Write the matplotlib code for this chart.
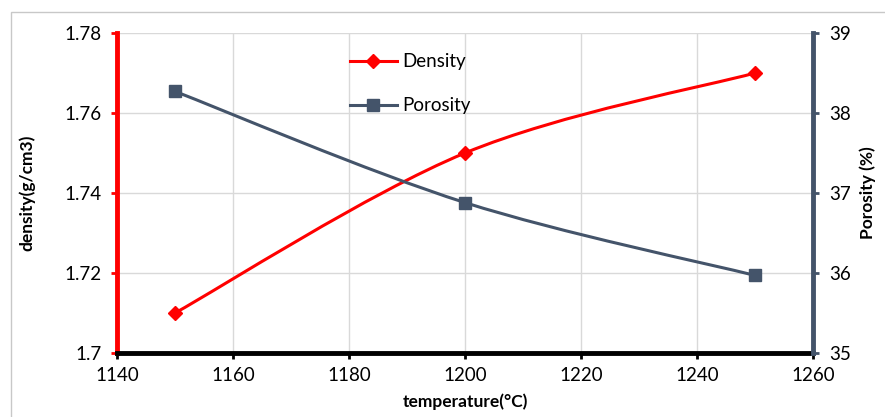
import matplotlib.pyplot as plt
from matplotlib.path import Path
from matplotlib.patches import PathPatch, Rectangle
import numpy as np

plt.rcParams['font.family'] = ['Lato', 'DejaVu Sans']

# data
temperature = [1150, 1200, 1250]
density = [1.71, 1.75, 1.77]
porosity = [38.27, 36.88, 35.97]

RED = '#FF0000'
SLATE = '#44546A'
GRID = '#D9D9D9'


def smooth_path(xs, ys):
    # Excel-style smoothed line: cubic bezier through the points
    P = np.column_stack([xs, ys]).astype(float)
    n = len(P)
    verts = [P[0]]
    codes = [Path.MOVETO]
    for i in range(n - 1):
        p_prev = P[i - 1] if i > 0 else P[i]
        p_next2 = P[i + 2] if i + 2 < n else P[i + 1]
        c1 = P[i] + (P[i + 1] - p_prev) / 6
        c2 = P[i + 1] - (p_next2 - P[i]) / 6
        verts += [c1, c2, P[i + 1]]
        codes += [Path.CURVE4] * 3
    return Path(verts, codes)


fig = plt.figure(figsize=(8.85, 4.17), dpi=100)
fig.patches.append(Rectangle((11 / 885, -0.1), 1.2, 1 - 12 / 417 + 0.1,
                             transform=fig.transFigure, fill=False,
                             edgecolor='#C8C8C8', linewidth=1))
ax = fig.add_axes([117 / 885, 1 - 353 / 417, (813 - 117) / 885, (353 - 33) / 417])
ax2 = ax.twinx()

# density
ax.add_patch(PathPatch(smooth_path(temperature, density), fill=False,
                       edgecolor=RED, linewidth=2.2, zorder=3))
ax.plot(temperature, density, linestyle='none', marker='D', markersize=7,
        color=RED, zorder=4)
# porosity
ax2.add_patch(PathPatch(smooth_path(temperature, porosity), fill=False,
                        edgecolor=SLATE, linewidth=2.2, zorder=3))
ax2.plot(temperature, porosity, linestyle='none', marker='s', markersize=9,
         color=SLATE, zorder=4)

ax.set_xlim(1140, 1260)
ax.set_ylim(1.70, 1.78)
ax2.set_ylim(35, 39)
ax.set_xticks([1140, 1160, 1180, 1200, 1220, 1240, 1260])
ax.set_yticks([1.70, 1.72, 1.74, 1.76, 1.78])
ax.set_yticklabels(['1.7', '1.72', '1.74', '1.76', '1.78'])
ax2.set_yticks([35, 36, 37, 38, 39])

ax.grid(True, color=GRID, linewidth=1)
ax.set_axisbelow(True)

for s in ['top']:
    ax.spines[s].set_visible(False)
    ax2.spines[s].set_visible(False)
ax.spines['right'].set_visible(False)
ax2.spines['left'].set_visible(False)
ax2.spines['bottom'].set_visible(False)
ax.spines['left'].set_color(RED)
ax.spines['left'].set_linewidth(3.5)
ax.spines['bottom'].set_color('black')
ax.spines['bottom'].set_linewidth(3.5)
ax.spines['bottom'].set_zorder(5)
ax2.spines['right'].set_color(SLATE)
ax2.spines['right'].set_linewidth(3.5)

ax.tick_params(axis='y', colors=RED, labelcolor='black', length=4, width=2,
               labelsize=13.5, pad=7)
ax.tick_params(axis='x', colors='black', length=4, width=2, labelsize=13.5, pad=6)
ax2.tick_params(axis='y', colors=SLATE, labelcolor='black', length=4, width=2,
                labelsize=13.5, pad=8)

ax.set_xlabel('temperature(°C)', fontsize=12.5, fontweight='bold', labelpad=7)
ax.set_ylabel('density(g/cm3)', fontsize=12.5, fontweight='bold', labelpad=21)
ax2.set_ylabel('Porosity (%)', fontsize=12.5, fontweight='bold', labelpad=6)

# legend
h1 = ax.plot([], [], color=RED, marker='D', markersize=7, linewidth=2.2)[0]
h2 = ax.plot([], [], color=SLATE, marker='s', markersize=9, linewidth=2.2)[0]
ax.legend([h1, h2], ['Density', 'Porosity'], loc='upper left',
          bbox_to_anchor=(0.31, 0.99), frameon=False, fontsize=13.5,
          labelspacing=1.45, handlelength=2.5, handletextpad=0.3)

fig.savefig('out.png', dpi=100)
